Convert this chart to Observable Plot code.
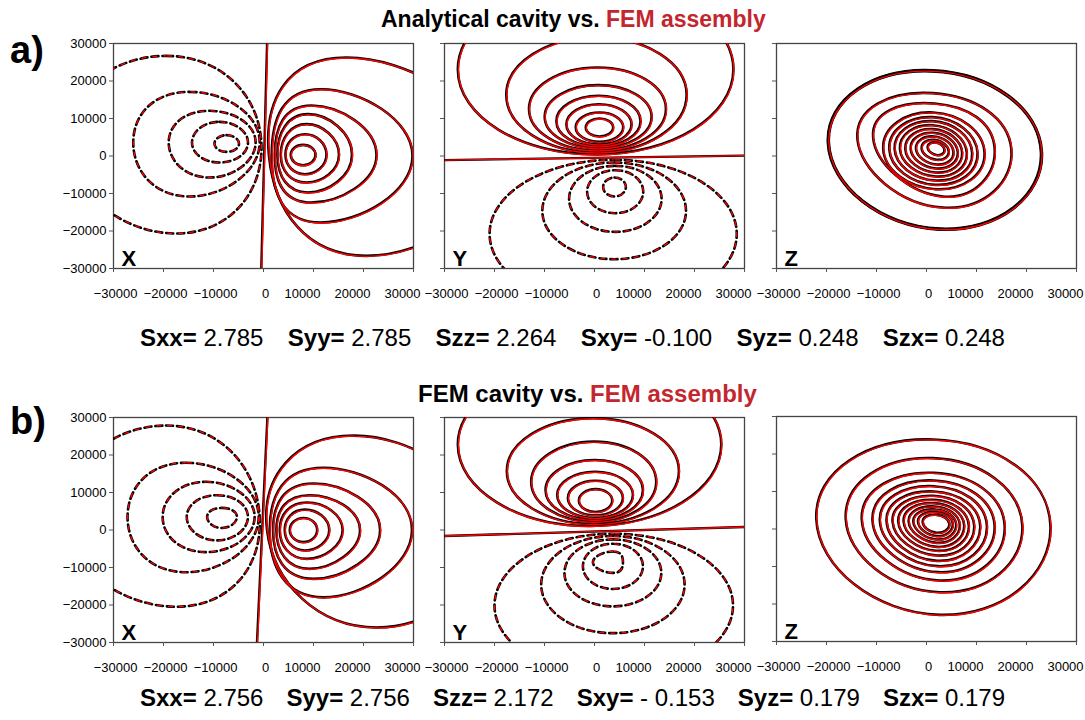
<!DOCTYPE html>
<html><head><meta charset="utf-8">
<script src="https://cdn.jsdelivr.net/npm/d3@7"></script>
<script src="https://cdn.jsdelivr.net/npm/@observablehq/plot@0.6"></script>
<style>
body{margin:0;background:#fff;font-family:"Liberation Sans",Arial,sans-serif;}
#wrap{position:relative;width:1085px;height:720px;overflow:hidden;background:#fff;}
.t{position:absolute;white-space:nowrap;line-height:1;}
.panel{position:absolute;}
.panel svg{overflow:visible;background:transparent;max-width:none !important;}
.stats{position:absolute;left:140px;width:865px;display:flex;justify-content:space-between;font-size:24px;line-height:1;white-space:pre;}
.stats b{font-weight:bold;}
.red{color:#c4262e;}
</style></head><body><div id="wrap"></div>
<script>
// ---- data ----
const ticks = [-30000, -20000, -10000, 0, 10000, 20000, 30000];
// each contour loop: [xLeft, yLeft, xTop, yTop, xRight, yRight, xBottom, yBottom]
const aX_pos = [
  [5460, 300, 7900, 2980, 10400, 300, 7900, -2450],
  [4390, 400, 8300, 5820, 12600, 400, 8300, -4850],
  [3450, 400, 8600, 8490, 15100, 400, 8600, -7070],
  [2780, 400, 8900, 11160, 17700, 400, 8900, -9740],
  [2250, 300, 9600, 13470, 22600, 300, 9600, -12400],
  [1640, 0, 11500, 17820, 29800, 0, 11500, -17740],
  [1100, 0, 16600, 26270, 45000, 0, 20600, -26630]
];
const aX_neg = [
  [-9800, 3300, -7400, 5560, -4900, 3300, -7400, 1110],
  [-14300, 3600, -8800, 9110, -3100, 3600, -8800, -1730],
  [-18960, 3600, -10800, 12050, -1570, 3600, -10800, -5740],
  [-26050, 3600, -14800, 17110, -760, 3600, -14800, -10800],
  [-39500, 3600, -19500, 26700, -430, 3600, -17500, -20670]
];
const aX_zero = [[-450, -30300], [720, 30300]];

const aY_pos = [
  [-1740, 7600, 1000, 10000, 3730, 7600, 1000, 5200],
  [-3750, 7690, 1000, 11600, 5740, 7690, 1000, 3780],
  [-5620, 8450, 900, 13820, 7410, 8450, 900, 3070],
  [-7620, 9290, 800, 16050, 9210, 9290, 800, 2530],
  [-9960, 10450, 730, 18890, 11420, 10450, 730, 2000],
  [-13100, 12540, 600, 23600, 14290, 12540, 600, 1470],
  [-17640, 16310, 400, 31660, 18430, 16310, 400, 930],
  [-27330, 23100, 230, 45800, 27780, 23100, 230, 400]
];
const aY_neg = [
  [1730, -8270, 4000, -5740, 6270, -8270, 4000, -10800],
  [-1480, -9510, 4130, -3780, 9750, -9510, 4130, -15250],
  [-5080, -11420, 4170, -2620, 13420, -11420, 4170, -20230],
  [-10430, -14630, 3940, -1730, 18300, -14630, 3940, -27520],
  [-20980, -20760, 3870, -1020, 28450, -20760, 3870, -40500]
];
const aY_zero = [[-30000, -1100], [30000, 100]];

const aZ_pos = [
  [-19630, 3600, 1240, 22710, 22990, 940, 2580, -19510],
  [-13810, 4490, 1240, 16760, 16970, 1820, 3250, -13740],
  [-10670, 4930, 1580, 14000, 13620, 2270, 3250, -10800],
  [-8660, 2000, 1300, 11600, 11610, 800, 1900, -8850],
  [-7450, 1900, 1200, 10360, 10210, 800, 1800, -7690],
  [-6380, 1900, 1200, 9290, 9140, 800, 1800, -6540],
  [-5310, 1900, 1200, 8220, 8070, 800, 1800, -5470],
  [-4240, 1900, 1300, 7160, 7130, 900, 1800, -4400],
  [-3170, 1900, 1400, 6180, 6260, 1000, 1900, -3330],
  [-2100, 1900, 1500, 5200, 5390, 1100, 2000, -2270],
  [-970, 2000, 1600, 4310, 4450, 1300, 2000, -1020],
  [240, 2200, 1800, 3600, 3590, 1700, 2100, 220]
];

const bX_pos = [
  [5260, 0, 8000, 3210, 10740, 0, 8000, -3220],
  [4250, 0, 8300, 5440, 13150, 0, 8300, -5450],
  [3250, 0, 8700, 7320, 15830, 0, 8700, -7690],
  [2580, 0, 9200, 9280, 19310, 0, 9200, -10360],
  [1910, 0, 10000, 12410, 23320, 0, 10000, -13040],
  [1240, 0, 12000, 16610, 29700, 0, 12000, -17960],
  [710, 0, 18000, 25180, 43600, 0, 22650, -25990]
];
const bX_neg = [
  [-11270, 3480, -8320, 5890, -5310, 3480, -8320, 530],
  [-15350, 3480, -9300, 9280, -3110, 3480, -9300, -2770],
  [-20170, 3480, -11500, 12850, -1770, 3480, -11500, -5900],
  [-27190, 3480, -15500, 17940, -960, 3480, -15500, -11260],
  [-40000, 3480, -19500, 27860, -760, 3480, -17500, -20460]
];
const bX_zero = [[-1300, -30000], [775, 30000]];

const bY_pos = [
  [-3120, 7850, 220, 10890, 3550, 7850, 220, 4820],
  [-5320, 8520, 150, 13120, 5680, 8520, 150, 3920],
  [-7460, 9370, 100, 15530, 7690, 9370, 100, 3210],
  [-9790, 10670, 0, 18660, 9690, 10670, 0, 2670],
  [-12660, 12850, -100, 23570, 12350, 12850, -100, 2140],
  [-17530, 15710, -300, 29820, 16890, 15710, -300, 1600],
  [-27330, 22770, -1000, 44470, 25360, 22770, -1000, 1070]
];
const bY_neg = [
  [-320, -8580, 3680, -5720, 5690, -8580, 3680, -11440],
  [-2320, -9690, 3680, -3670, 9690, -9690, 3680, -15720],
  [-6010, -11440, 3670, -2510, 13360, -11440, 3670, -20370],
  [-10660, -14560, 3680, -1610, 18020, -14560, 3680, -27510],
  [-20000, -20140, 3850, -990, 27700, -20140, 3850, -39300]
];
const bY_zero = [[-30000, -1600], [30000, 800]];

const bZ_pos = [
  [-22040, 2700, 1240, 23870, 24790, 900, 2580, -22890],
  [-16150, 2700, 1300, 18890, 19170, 900, 2600, -16850],
  [-12940, 2500, 1400, 14980, 15630, 900, 2500, -13740],
  [-10800, 2300, 1400, 12930, 13620, 900, 2300, -11510],
  [-9330, 2200, 1400, 11420, 12080, 900, 2200, -9910],
  [-7990, 2100, 1400, 10000, 10740, 900, 2100, -8490],
  [-6790, 2000, 1400, 8850, 9540, 900, 2100, -7070],
  [-5650, 2000, 1500, 7780, 8470, 900, 2000, -5820],
  [-4580, 2000, 1500, 6890, 7530, 1000, 2000, -4760],
  [-3570, 2000, 1600, 6000, 6660, 1100, 2000, -3690],
  [-2640, 2000, 1700, 5200, 5930, 1200, 2000, -2800],
  [-1700, 2000, 1800, 4490, 5260, 1300, 2000, -1910],
  [-760, 1900, 1900, 3780, 4590, 1300, 2000, -1020]
];

const statNames = ["Sxx=", "Syy=", "Szz=", "Sxy=", "Syz=", "Szx="];
const statsA = ["2.785", "2.785", "2.264", "-0.100", "0.248", "0.248"];
const statsB = ["2.756", "2.756", "2.172", "- 0.153", "0.179", "0.179"];
const titleA = ["Analytical cavity vs. ", "FEM assembly"];
const titleB = ["FEM cavity vs. ", "FEM assembly"];

// ---- drawing ----
const wrap = document.getElementById("wrap");
const fmt = d => d < 0 ? "\u2212" + Math.abs(d) : String(d);
function toPts(loops) {
  return loops.flatMap((l, i) => [0, 1, 2, 3].map(k => ({x: l[2 * k], y: l[2 * k + 1], id: i})));
}
const ML = 70, MR = 40, MT = 10, MB = 40, W = 300, H = 225;

function panel({left, top, pos, neg, zero, label, yLabels, thickFirst}) {
  const base = {x: "x", y: "y", z: "id", curve: "cardinal-closed", tension: -0.657, clip: true};
  const P = toPts(pos), N = toPts(neg || []);
  const lab = {x: d => d, text: fmt, frameAnchor: "bottom", lineAnchor: "top", dy: 20, fontSize: 13, fill: "black"};
  const marks = [
    Plot.frame({stroke: "#444", strokeWidth: 1.3}),
    Plot.axisX(ticks, {tickSize: 4, tickFormat: () => "", stroke: "#555", label: null}),
    Plot.text(ticks.filter(d => d <= 0), {...lab, dx: 2}),
    Plot.text(ticks.filter(d => d > 0), {...lab, dx: -11}),
    Plot.axisY(ticks, {tickSize: 4, tickPadding: 3, tickFormat: yLabels ? fmt : () => "", fontSize: 13, stroke: "#555", label: null})
  ];
  if (N.length) {
    marks.push(Plot.line(N, {...base, stroke: "black", strokeWidth: 2.6, strokeDasharray: "7,4"}));
    marks.push(Plot.line(N, {...base, stroke: "red", strokeWidth: 1.3, strokeDasharray: "4,7", strokeDashoffset: -1.5}));
  }
  if (thickFirst) {
    marks.push(Plot.line(toPts(pos.slice(0, 1)), {...base, stroke: "black", strokeWidth: 3.6}));
  }
  marks.push(Plot.line(P, {...base, stroke: "black", strokeWidth: 2.6}));
  marks.push(Plot.line(P, {...base, stroke: "red", strokeWidth: 1.4, dx: 0.5, dy: 0.5}));
  if (zero) {
    marks.push(Plot.line(zero, {x: d => d[0], y: d => d[1], stroke: "black", strokeWidth: 2.4, clip: true}));
    marks.push(Plot.line(zero, {x: d => d[0], y: d => d[1], stroke: "red", strokeWidth: 1.4, dx: 0.5, clip: true}));
  }
  marks.push(Plot.text([label], {text: d => d, frameAnchor: "bottom-left", dx: 8, dy: -3, fontSize: 22, fontWeight: "bold", textAnchor: "start", lineAnchor: "bottom", fill: "black"}));
  const svg = Plot.plot({
    width: W + ML + MR, height: H + MT + MB,
    marginLeft: ML, marginRight: MR, marginTop: MT, marginBottom: MB,
    x: {domain: [-30000, 30000], label: null},
    y: {domain: [-30000, 30000], label: null},
    style: {fontFamily: "Liberation Sans, Arial, sans-serif", fontSize: "13px", overflow: "visible", background: "transparent", color: "black", maxWidth: "none"},
    marks
  });
  const div = document.createElement("div");
  div.className = "panel";
  div.style.left = (left - ML) + "px";
  div.style.top = (top - MT) + "px";
  div.style.width = (W + ML + MR) + "px";
  div.appendChild(svg);
  wrap.appendChild(div);
}

function text(html, left, top, size, bold) {
  const d = document.createElement("div");
  d.className = "t";
  d.style.left = left + "px"; d.style.top = top + "px";
  d.style.fontSize = size + "px";
  d.style.fontWeight = bold ? "bold" : "normal";
  d.innerHTML = html;
  wrap.appendChild(d);
}
function stats(values, top) {
  const d = document.createElement("div");
  d.className = "stats";
  d.style.top = top + "px";
  d.innerHTML = statNames.map((n, i) => `<span><b>${n}</b> ${values[i]}</span>`).join("");
  wrap.appendChild(d);
}

panel({left: 113, top: 43, pos: aX_pos, neg: aX_neg, zero: aX_zero, label: "X", yLabels: true});
panel({left: 443.5, top: 43, pos: aY_pos, neg: aY_neg, zero: aY_zero, label: "Y", yLabels: false});
panel({left: 776, top: 43, pos: aZ_pos, label: "Z", yLabels: false, thickFirst: true});
panel({left: 113, top: 416.5, pos: bX_pos, neg: bX_neg, zero: bX_zero, label: "X", yLabels: true});
panel({left: 443.5, top: 416.5, pos: bY_pos, neg: bY_neg, zero: bY_zero, label: "Y", yLabels: false});
panel({left: 776, top: 416, pos: bZ_pos, label: "Z", yLabels: false});

text(`${titleA[0]}<span class="red">${titleA[1]}</span>`, 381, 7.5, 23, true);
text(`${titleB[0]}<span class="red">${titleB[1]}</span>`, 418, 382, 24, true);
text("a)", 10, 31, 38, true);
text("b)", 10, 402, 38, true);
stats(statsA, 326);
stats(statsB, 686);
</script></body></html>
